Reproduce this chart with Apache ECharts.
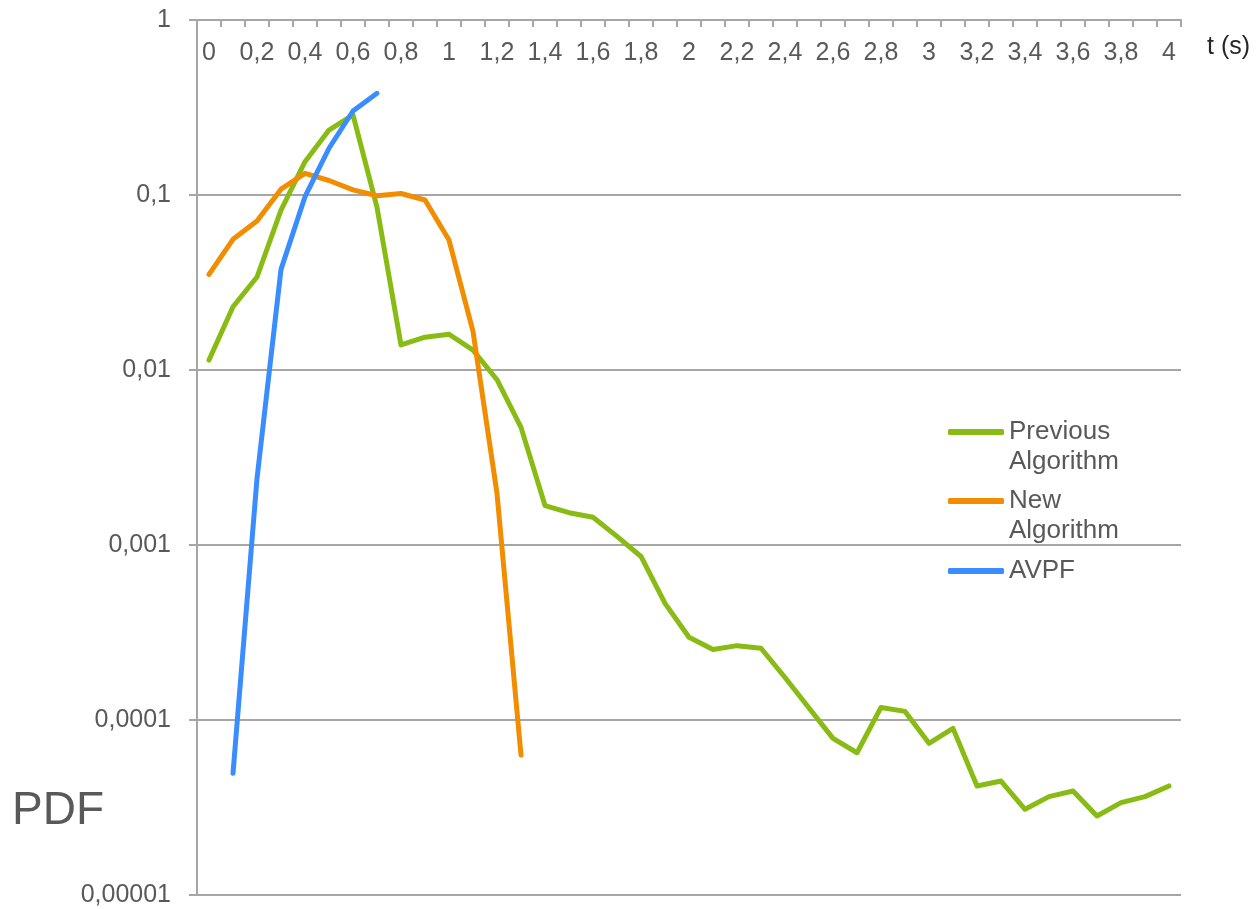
<!DOCTYPE html>
<html>
<head>
<meta charset="utf-8">
<script src="https://cdn.jsdelivr.net/npm/echarts@6/dist/echarts.min.js"></script>
<style>
  html, body { margin: 0; padding: 0; background: #fff; }
  #chart { width: 1260px; height: 909px; }
</style>
</head>
<body>
<div id="chart"></div>
<script>
// time axis categories (s)
var times = ['0', '0,1', '0,2', '0,3', '0,4', '0,5', '0,6', '0,7', '0,8', '0,9',
  '1', '1,1', '1,2', '1,3', '1,4', '1,5', '1,6', '1,7', '1,8', '1,9',
  '2', '2,1', '2,2', '2,3', '2,4', '2,5', '2,6', '2,7', '2,8', '2,9',
  '3', '3,1', '3,2', '3,3', '3,4', '3,5', '3,6', '3,7', '3,8', '3,9', '4'];

var yTickLabels = ['0,00001', '0,0001', '0,001', '0,01', '0,1', '1'];

var previousAlgo = [0.0114, 0.023, 0.034, 0.082, 0.155, 0.235, 0.287, 0.085, 0.0139, 0.0154,
  0.016, 0.013, 0.0088, 0.0047, 0.00168, 0.00153, 0.00144, 0.00112, 0.00086, 0.000464,
  0.000297, 0.000253, 0.000266, 0.000257, 0.000175, 0.000117, 0.0000785, 0.000065, 0.000118, 0.000112,
  0.0000736, 0.0000896, 0.000042, 0.0000448, 0.0000309, 0.0000365, 0.0000393, 0.0000283, 0.0000337, 0.0000365, 0.000042];

var newAlgo = [0.0352, 0.0558, 0.071, 0.108, 0.133, 0.121, 0.107, 0.099, 0.102, 0.0936,
  0.0553, 0.0166, 0.00197, 0.000063];

var avpf = [null, 0.0000496, 0.0024, 0.0376, 0.0978, 0.185, 0.302, 0.381];

var chart = echarts.init(document.getElementById('chart'));

var gray = '#595959';
var lineGray = '#a6a6a6';
var font = 'Liberation Sans, Arial, sans-serif';

// one legend per entry, so the icon lines up with the first text line
function legendAt(name, top, twoLines) {
  return {
    data: [name],
    orient: 'vertical',
    left: 948,
    top: top,
    padding: 0,
    itemWidth: 56,
    itemHeight: 6,
    itemGap: 5,
    icon: 'roundRect',
    selectedMode: false,
    formatter: function (n) { return twoLines ? '\n' + n.replace(' ', '\n') : n; },
    textStyle: {
      color: gray,
      fontSize: 26,
      fontFamily: font,
      lineHeight: 30
    }
  };
}

var option = {
  animation: false,
  backgroundColor: '#fff',
  grid: { left: 197, right: 79, top: 20, bottom: 14 },
  legend: [
    legendAt('Previous Algorithm', 387, true),
    legendAt('New Algorithm', 456, true),
    legendAt('AVPF', 556, false)
  ],
  xAxis: {
    type: 'category',
    position: 'top',
    data: times,
    boundaryGap: true,
    axisLine: { lineStyle: { color: lineGray, width: 2 } },
    axisTick: { show: true, inside: true, length: 7, interval: 0, lineStyle: { color: lineGray, width: 2 } },
    axisLabel: {
      inside: true,
      interval: 1,
      margin: 21,
      color: gray,
      fontSize: 25,
      fontFamily: font
    },
    splitLine: { show: false }
  },
  yAxis: {
    type: 'log',
    logBase: 10,
    min: 0.00001,
    max: 1,
    axisLine: { show: true, lineStyle: { color: lineGray, width: 2 } },
    axisTick: { show: true, length: 8, lineStyle: { color: lineGray, width: 2 } },
    axisLabel: {
      margin: 26,
      color: gray,
      fontSize: 25,
      fontFamily: font,
      formatter: function (v) {
        var i = Math.round(Math.log10(v)) + 5;
        return yTickLabels[i] || '';
      }
    },
    splitLine: { show: true, lineStyle: { color: lineGray, width: 2 } }
  },
  graphic: [
    {
      type: 'text', left: 12, top: 788,
      style: { text: 'PDF', fill: gray, fontSize: 46, fontFamily: font }
    },
    {
      type: 'text', left: 1207, top: 35,
      style: { text: 't (s)', fill: '#262626', fontSize: 25, fontFamily: font }
    }
  ],
  series: [
    {
      name: 'Previous Algorithm', type: 'line', data: previousAlgo,
      showSymbol: false, symbol: 'none', color: '#88bc14',
      lineStyle: { width: 5, cap: 'round', join: 'round' }
    },
    {
      name: 'New Algorithm', type: 'line', data: newAlgo,
      showSymbol: false, symbol: 'none', color: '#f28c00',
      lineStyle: { width: 5, cap: 'round', join: 'round' }
    },
    {
      name: 'AVPF', type: 'line', data: avpf,
      showSymbol: false, symbol: 'none', color: '#3a8dff',
      lineStyle: { width: 5, cap: 'round', join: 'round' }
    }
  ]
};

chart.setOption(option);
</script>
</body>
</html>
